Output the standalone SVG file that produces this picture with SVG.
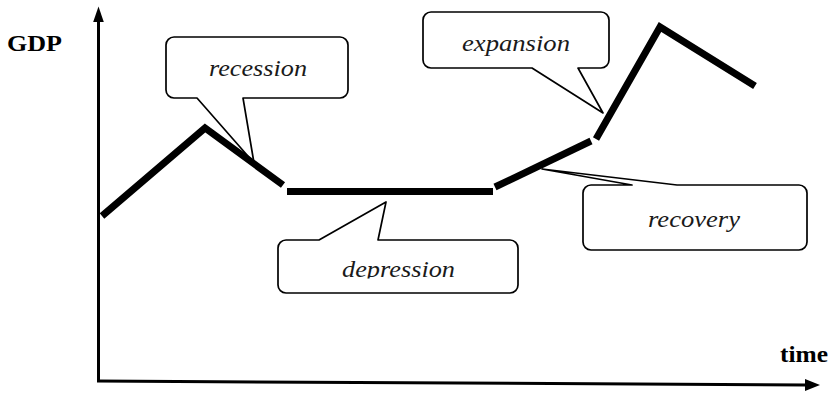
<svg xmlns="http://www.w3.org/2000/svg" width="833" height="393" viewBox="0 0 833 393">
<style>
.callout{fill:#fff;stroke:#000;stroke-width:1.7;stroke-linejoin:round}
.lbl{font-style:italic;font-size:23px;fill:#1a1a1a}
.ax{font-weight:bold;font-size:23px;fill:#000}
.axis{stroke:#000;stroke-width:3;fill:none}
.curve{stroke:#000;stroke-width:7;fill:none;stroke-linecap:butt;stroke-linejoin:miter}
</style>
<defs>
<clipPath id="depclip"><rect x="278" y="240" width="240" height="38.5"/></clipPath>
</defs>
<rect width="833" height="393" fill="#fff"/>
<g id="axes">
<line class="axis" x1="98.5" y1="20" x2="98.5" y2="381"/>
<polygon points="98.5,6.5 93.2,22 103.8,22" fill="#000"/>
<polyline class="axis" points="97,381 806,385"/>
<polygon points="820,385 805,379 805,391" fill="#000"/>
<text class="ax" font-family="Liberation Serif, serif" x="7" y="51" textLength="55" lengthAdjust="spacingAndGlyphs">GDP</text>
<text class="ax" font-family="Liberation Serif, serif" x="780" y="362" textLength="48" lengthAdjust="spacingAndGlyphs">time</text>
</g>
<g id="recession">
<path class="callout" d="M174,37 H340 A8,8 0 0 1 348,45 V90 A8,8 0 0 1 340,98 H243 L254,163 L197,98 H174 A8,8 0 0 1 166,90 V45 A8,8 0 0 1 174,37 Z"/>
<text class="lbl" font-family="Liberation Serif, serif" x="209" y="76" textLength="98" lengthAdjust="spacingAndGlyphs">recession</text>
</g>
<g id="expansion">
<path class="callout" d="M431,12 H601 A8,8 0 0 1 609,20 V60 A8,8 0 0 1 601,68 H578 L603,113 L532,68 H431 A8,8 0 0 1 423,60 V20 A8,8 0 0 1 431,12 Z"/>
<text class="lbl" font-family="Liberation Serif, serif" x="462" y="51" textLength="108" lengthAdjust="spacingAndGlyphs">expansion</text>
</g>
<g id="recovery">
<path class="callout" d="M591,185 H632 L542,169 L677,185 H799 A8,8 0 0 1 807,193 V242 A8,8 0 0 1 799,250 H591 A8,8 0 0 1 583,242 V193 A8,8 0 0 1 591,185 Z"/>
<text class="lbl" font-family="Liberation Serif, serif" x="648" y="227" textLength="92" lengthAdjust="spacingAndGlyphs">recovery</text>
</g>
<g id="depression">
<path class="callout" d="M286,240 H319 L386,202 L378,240 H510 A8,8 0 0 1 518,248 V285 A8,8 0 0 1 510,293 H286 A8,8 0 0 1 278,285 V248 A8,8 0 0 1 286,240 Z"/>
<text class="lbl" font-family="Liberation Serif, serif" x="342" y="277" textLength="113" lengthAdjust="spacingAndGlyphs" clip-path="url(#depclip)">depression</text>
</g>
<g id="connectors">
<polyline class="curve" points="102,216 205,128 283,185"/>
<line class="curve" x1="287" y1="191.5" x2="493" y2="191.5"/>
<line class="curve" x1="495" y1="187" x2="591" y2="141"/>
<polyline class="curve" points="596,139 660,27 755,86"/>
</g>
</svg>
